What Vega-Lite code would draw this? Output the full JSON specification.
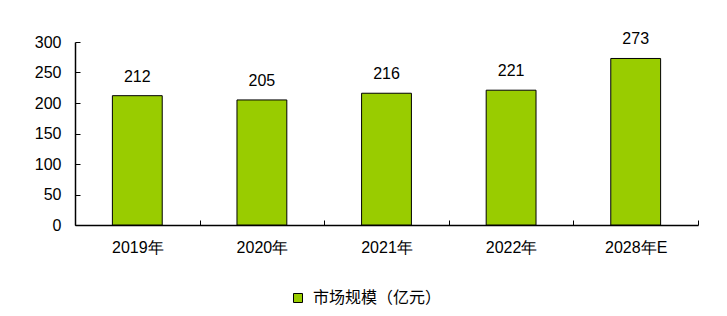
{
  "$schema": "https://vega.github.io/schema/vega-lite/v6.json",
  "width": 623,
  "height": 183,
  "autosize": {"type": "none"},
  "padding": {"left": 75, "top": 42, "right": 29, "bottom": 91},
  "background": "white",
  "config": {
    "view": {"stroke": null},
    "font": "Liberation Sans"
  },
  "data": {
    "values": [
      {"year": "2019年", "value": 212, "series": "市场规模（亿元）"},
      {"year": "2020年", "value": 205, "series": "市场规模（亿元）"},
      {"year": "2021年", "value": 216, "series": "市场规模（亿元）"},
      {"year": "2022年", "value": 221, "series": "市场规模（亿元）"},
      {"year": "2028年E", "value": 273, "series": "市场规模（亿元）"}
    ]
  },
  "encoding": {
    "x": {
      "field": "year",
      "type": "nominal",
      "sort": null,
      "scale": {"paddingInner": 0, "paddingOuter": 0},
      "axis": {
        "title": null,
        "labelAngle": 0,
        "labelFont": "Liberation Sans",
        "labelFontSize": 16,
        "labelColor": "black",
        "labelPadding": 19,
        "domainColor": "black",
        "domainWidth": 1.5,
        "tickColor": "black",
        "tickSize": -5,
        "tickWidth": 1,
        "tickBand": "extent",
        "grid": false
      }
    },
    "y": {
      "field": "value",
      "type": "quantitative",
      "scale": {"domain": [0, 300], "nice": false},
      "axis": {
        "title": null,
        "values": [0, 50, 100, 150, 200, 250, 300],
        "labelFont": "Liberation Sans",
        "labelFontSize": 16,
        "labelColor": "black",
        "labelPadding": 19,
        "domainColor": "black",
        "domainWidth": 1.5,
        "tickColor": "black",
        "tickSize": -5,
        "tickWidth": 1,
        "grid": false
      }
    }
  },
  "layer": [
    {
      "mark": {"type": "bar", "stroke": "black", "strokeWidth": 1, "width": {"band": 0.4}},
      "encoding": {
        "color": {
          "field": "series",
          "type": "nominal",
          "scale": {"range": ["#99CC00"]},
          "legend": {
            "title": null,
            "orient": "none",
            "legendX": 215,
            "legendY": 248,
            "symbolType": "square",
            "symbolSize": 81,
            "symbolStrokeColor": "black",
            "symbolStrokeWidth": 1,
            "symbolOpacity": 1,
            "labelFont": "Noto Sans CJK SC",
            "labelFontSize": 16,
            "labelColor": "black",
            "labelOffset": 7
          }
        }
      }
    },
    {
      "mark": {"type": "text", "baseline": "alphabetic", "dy": -14, "fontSize": 16, "font": "Liberation Sans", "color": "black"},
      "encoding": {
        "text": {"field": "value", "type": "quantitative"}
      }
    }
  ]
}
